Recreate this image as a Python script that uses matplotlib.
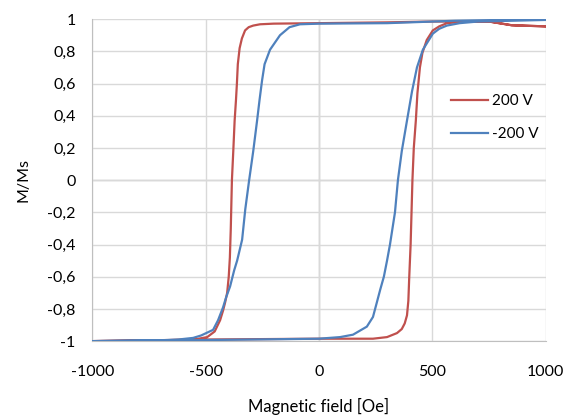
import matplotlib
matplotlib.use('Agg')
import matplotlib.pyplot as plt

# hysteresis loops: descending branch (+1000 -> -1000) then ascending branch
red_x = [1000, 850, 750, 500, 300, 0, -200, -260, -290, -310, -326, -340, -350, -358, -362, -366,
         -372, -378, -384, -389, -393, -398, -405, -414, -423, -436, -460, -493, -550, -700, -1000,
         -1000, -500, 0, 238, 300, 344, 365, 378, 388, 394, 398, 404, 412, 418, 427, 434, 445, 456,
         475, 502, 530, 564, 650, 750, 850, 1000]
red_y = [0.955, 0.962, 0.985, 0.985, 0.98, 0.975, 0.972, 0.968, 0.96, 0.95, 0.93, 0.88, 0.82, 0.72,
         0.60, 0.50, 0.37, 0.18, 0.0, -0.30, -0.48, -0.60, -0.70, -0.76, -0.81, -0.87, -0.94, -0.975,
         -0.99, -0.995, -1.0,
         -1.0, -0.99, -0.985, -0.985, -0.975, -0.95, -0.925, -0.89, -0.84, -0.75, -0.60, -0.40, 0.0,
         0.20, 0.37, 0.54, 0.70, 0.79, 0.87, 0.93, 0.955, 0.975, 0.985, 0.985, 0.962, 0.955]

blue_x = [1000, 800, 600, 300, 0, -84, -130, -172, -216, -240, -251, -262, -273, -290, -308, -325,
          -339, -361, -374, -392, -410, -423, -445, -467, -520, -555, -620, -700, -1000,
          -1000, -600, -300, 0, 93, 150, 211, 238, 255, 270, 286, 300, 313, 335, 348, 365, 388, 410,
          432, 458, 502, 530, 564, 620, 700, 1000]
blue_y = [1.0, 0.995, 0.99, 0.975, 0.972, 0.968, 0.95, 0.90, 0.81, 0.72, 0.62, 0.50, 0.37, 0.18, 0.0,
          -0.18, -0.37, -0.50, -0.56, -0.66, -0.73, -0.79, -0.87, -0.93, -0.965, -0.98, -0.99, -0.995,
          -1.0, -1.0, -0.995, -0.99, -0.985, -0.975, -0.96, -0.91, -0.85, -0.76, -0.68, -0.60, -0.50,
          -0.40, -0.20, 0.0, 0.18, 0.37, 0.55, 0.70, 0.81, 0.91, 0.94, 0.96, 0.975, 0.985, 0.995]

xticks = [-1000, -500, 0, 500, 1000]
yticks = [-1, -0.8, -0.6, -0.4, -0.2, 0, 0.2, 0.4, 0.6, 0.8, 1]

plt.rcParams['font.family'] = ['Lato', 'DejaVu Sans']
plt.rcParams['axes.unicode_minus'] = False
fig = plt.figure(figsize=(5.8, 4.16), dpi=100)
ax = fig.add_axes([0.159, 0.180, 0.782, 0.774])

ax.plot(red_x, red_y, color='#C0504D', lw=1.6, label='200 V', zorder=3)
ax.plot(blue_x, blue_y, color='#4F81BD', lw=1.6, label='-200 V', zorder=3)

ax.set_xlim(-1000, 1000)
ax.set_ylim(-1, 1)
ax.set_xticks(xticks)
ax.set_yticks(yticks)
ax.set_yticklabels([('%g' % v).replace('.', ',') for v in yticks])
ax.grid(True, color='#D9D9D9', lw=1)
ax.axhline(0, color='#BFBFBF', lw=1, zorder=1)
ax.axvline(0, color='#BFBFBF', lw=1, zorder=1)
for s in ['top', 'right']:
    ax.spines[s].set_visible(False)
for s in ['left', 'bottom']:
    ax.spines[s].set_color('#BFBFBF')
ax.tick_params(length=0, labelsize=11.5)
ax.tick_params(axis='x', pad=17)
ax.tick_params(axis='y', pad=12)
ax.set_xlabel('Magnetic field [Oe]', fontsize=12, labelpad=14)
ax.set_ylabel('M/Ms', fontsize=11.5, labelpad=12)
ax.legend(loc='upper right', bbox_to_anchor=(1.015, 0.81), frameon=False, fontsize=11,
          handlelength=2.4, handletextpad=0.3, labelspacing=1.25)

fig.savefig('out.png', dpi=100)
